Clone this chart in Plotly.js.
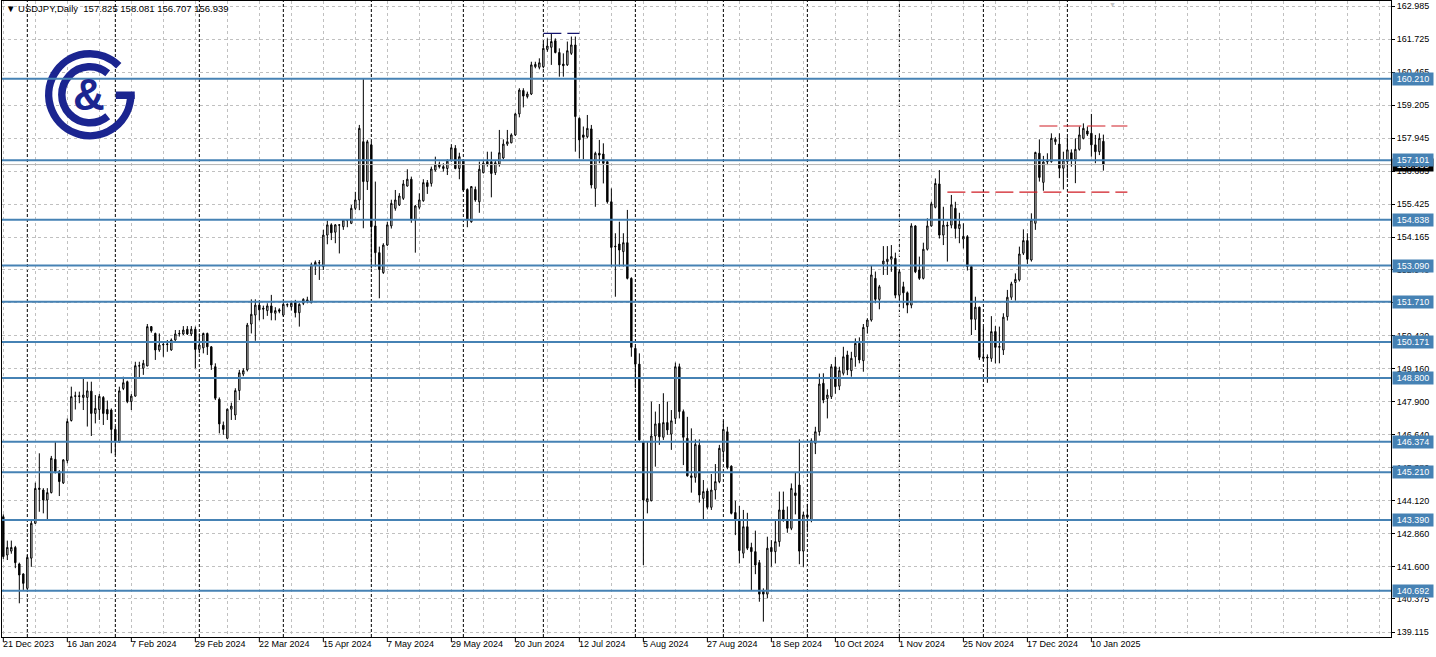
<!DOCTYPE html>
<html>
<head>
<meta charset="utf-8">
<script src="https://cdn.plot.ly/plotly-3.0.1.min.js"></script>
<style>
html,body{margin:0;padding:0;background:#ffffff;}
#chart{width:1436px;height:657px;}
</style>
</head>
<body>
<div id="chart"></div>
<script>
// ---------------- DATA ----------------
const symbol = 'USDJPY,Daily';
const firstDate = '2023-12-21';
const lastDate = '2025-01-15';
const holidays = ['2023-12-25', '2024-01-01', '2024-12-25', '2025-01-01'];

const open = [
143.51,142.05,142.20,142.34,141.71,141.33,140.78,141.93,143.26,144.55,
144.53,144.15,144.43,145.70,145.23,144.80,145.65,147.18,148.10,148.12,
148.06,148.06,148.30,147.45,147.60,148.06,147.60,147.58,146.84,146.37,
148.40,148.66,147.90,148.11,149.27,149.17,149.26,150.76,150.50,149.87,
150.06,150.10,149.87,150.25,150.48,150.48,150.66,150.48,150.66,149.89,
149.95,150.50,149.99,149.23,147.99,147.00,146.50,147.61,147.39,148.32,
148.95,149.11,150.86,151.20,151.58,151.46,151.37,151.55,151.27,151.40,
151.20,151.58,151.52,151.69,151.29,151.65,151.72,151.67,153.11,153.20,
153.05,154.25,154.64,154.36,154.64,154.57,154.80,154.70,155.27,155.59,
157.81,156.29,157.69,154.60,153.58,152.82,153.87,154.60,155.27,155.40,
155.65,156.12,156.38,154.83,155.31,155.56,156.25,156.22,156.73,156.96,
156.79,156.79,157.09,157.56,156.79,157.11,155.99,154.76,155.99,155.52,
156.63,157.05,157.05,156.63,156.96,157.19,157.72,157.77,158.07,158.87,
159.76,159.53,159.63,160.67,160.65,160.67,161.33,161.41,161.66,161.21,
160.77,160.74,161.18,161.50,158.70,158.07,158.00,158.30,156.03,157.37,
157.34,157.05,155.52,153.83,153.91,153.62,153.96,152.60,149.93,149.33,
146.37,144.08,144.12,146.59,147.07,146.54,147.10,146.66,147.26,149.23,
147.52,146.50,145.07,145.01,146.24,144.21,144.49,143.87,144.53,144.85,
146.00,146.75,145.44,143.67,143.41,142.12,143.13,142.34,142.18,141.76,
140.69,140.56,142.34,142.18,142.56,143.77,143.41,143.07,144.42,144.72,
142.20,143.58,143.39,146.31,146.75,148.60,148.02,148.09,149.23,148.49,
148.98,149.68,149.08,149.61,150.12,149.46,150.76,151.01,152.60,151.80,
153.15,153.24,153.33,153.36,151.96,152.28,152.05,151.58,154.60,152.92,
152.60,153.71,154.60,155.31,156.20,154.25,154.63,154.63,155.27,154.50,
154.10,154.19,153.05,151.04,151.50,149.55,149.60,149.55,150.57,149.97,
149.87,151.14,151.88,152.44,152.54,153.56,154.04,153.30,154.70,157.37,
156.26,157.04,157.05,157.81,157.72,156.80,157.05,157.39,157.14,157.52,
157.94,158.22,158.13,157.69,157.43,157.825
];
const high = [
143.60,142.60,142.60,142.40,141.76,141.35,142.05,143.41,144.81,145.93,
144.60,144.60,145.83,146.37,145.29,145.70,147.26,148.47,148.28,148.28,
148.79,148.66,148.66,148.15,148.19,148.11,147.94,147.64,146.95,148.47,
148.85,148.70,148.19,149.42,149.42,149.49,150.86,150.78,150.53,150.50,
150.19,150.25,150.31,150.63,150.63,150.78,150.78,150.78,150.76,150.50,
150.53,150.53,150.02,149.36,148.06,147.14,147.64,147.86,148.41,149.11,
149.17,150.90,151.80,151.80,151.77,151.56,151.65,151.97,151.50,151.46,
151.75,151.65,151.75,151.78,151.65,151.84,151.90,153.20,153.28,153.30,
154.45,154.80,154.70,154.67,154.67,154.85,154.83,155.40,155.90,158.45,
160.23,157.88,157.81,156.29,153.81,153.94,154.76,155.60,155.97,155.85,
156.35,156.76,156.48,155.40,155.84,156.38,156.35,156.86,157.24,157.05,
156.99,157.14,157.72,157.68,157.39,157.14,156.03,156.12,156.10,157.05,
157.11,157.43,157.43,157.11,158.26,157.90,158.26,158.13,158.92,159.85,
159.85,159.72,160.86,160.86,160.99,161.63,161.75,161.94,161.75,161.37,
161.18,161.63,161.82,161.82,158.74,158.39,158.83,158.45,157.43,157.88,
157.75,157.11,156.03,154.32,154.76,154.32,155.21,152.64,150.00,149.74,
146.40,146.37,147.90,147.52,147.81,148.22,147.90,147.58,149.39,149.35,
147.60,147.32,146.88,146.46,146.46,144.91,144.59,145.14,145.52,146.25,
147.17,146.94,145.47,144.12,143.92,143.77,143.66,142.52,142.98,141.86,
140.78,142.75,142.62,143.39,144.47,144.47,143.90,144.78,145.19,146.46,
143.70,144.00,146.50,146.94,148.97,148.98,148.37,149.33,149.60,149.23,
149.99,149.84,149.80,150.31,150.35,150.86,151.08,153.10,152.86,152.35,
153.83,153.83,153.87,153.58,152.92,152.47,152.10,154.70,154.63,153.43,
153.96,154.89,155.52,156.41,156.73,155.33,154.76,155.78,155.52,155.10,
154.70,154.25,153.10,151.90,151.52,150.76,149.70,151.16,150.78,150.76,
151.27,152.16,152.47,152.79,153.81,154.47,154.32,155.08,157.43,157.90,
157.27,157.37,158.13,157.98,158.13,157.43,157.98,157.52,157.94,158.39,
158.51,158.39,158.87,158.07,158.13,158.081
];
const low = [
141.90,141.86,142.10,141.55,140.21,140.72,140.75,141.60,143.24,143.70,
143.64,143.39,144.40,145.16,144.30,144.76,145.55,147.14,147.60,147.84,
147.58,146.95,146.59,147.07,147.20,147.01,147.20,145.93,145.86,146.33,
148.34,147.84,147.58,148.09,148.80,148.92,149.25,150.53,149.49,149.80,
149.61,149.80,149.84,150.22,150.38,150.44,150.44,150.40,149.17,149.74,
149.74,149.68,149.11,147.96,146.69,146.63,146.48,147.20,147.20,147.96,
148.87,149.05,150.50,150.22,151.00,151.04,151.17,151.00,151.00,151.27,
151.14,151.50,151.37,151.11,150.76,151.58,151.65,151.65,152.73,152.54,
152.92,153.90,154.06,153.94,153.55,154.45,154.55,154.67,155.20,155.20,
154.51,155.97,152.98,153.05,151.84,152.77,153.83,154.50,155.18,155.36,
155.59,156.10,154.72,153.58,155.23,155.52,155.82,156.10,156.67,156.79,
156.67,156.54,157.05,156.76,156.38,155.91,154.55,154.72,155.52,155.10,
156.60,156.86,155.69,156.54,156.86,157.14,157.65,157.75,158.03,158.74,
159.12,159.46,159.59,160.61,160.57,160.61,161.24,160.74,161.18,160.29,
160.29,160.70,161.12,157.43,157.18,157.14,157.94,156.03,155.33,156.99,
156.22,155.45,153.05,151.90,153.05,153.05,152.56,149.61,148.41,146.37,
141.67,143.64,144.10,145.42,146.25,146.44,146.63,146.06,147.05,147.26,
145.48,145.04,144.43,144.81,144.05,143.41,143.79,143.77,144.17,144.79,
145.65,145.32,143.60,142.81,141.73,141.93,142.24,140.69,141.32,140.27,
139.51,140.40,141.61,141.73,142.37,143.32,142.90,143.00,143.60,141.70,
141.60,143.00,143.30,145.90,146.60,147.84,147.26,148.00,148.20,148.34,
148.90,148.91,148.85,149.23,149.36,149.04,150.50,150.95,151.65,151.42,
152.73,152.73,152.85,151.84,151.80,151.46,151.27,151.46,152.80,152.54,
152.56,153.66,154.57,155.27,154.12,153.87,153.24,154.51,154.12,153.94,
153.74,152.90,150.44,150.63,149.49,149.45,148.62,149.42,149.36,149.36,
149.68,150.99,151.78,151.75,152.48,153.49,153.15,153.24,154.45,156.29,
155.94,156.92,157.01,157.69,156.42,155.99,156.42,156.86,156.23,157.47,
157.90,158.03,157.24,156.99,157.30,156.707
];
const close = [
141.99,142.34,142.34,141.76,141.29,140.97,141.96,143.26,144.59,144.60,
144.15,144.43,145.74,145.23,144.85,145.68,147.14,148.09,148.12,148.10,
148.15,148.31,147.45,147.64,148.10,147.45,147.43,146.84,146.37,148.31,
148.62,147.90,148.11,149.27,149.26,149.36,150.76,150.60,149.87,150.06,
150.08,150.08,150.25,150.48,150.50,150.63,150.48,150.66,149.89,150.06,
150.50,149.99,149.30,148.03,147.05,146.84,147.61,147.73,148.32,149.00,
149.08,150.82,151.23,151.58,151.40,151.43,151.55,151.29,151.37,151.35,
151.61,151.60,151.65,151.29,151.61,151.80,151.78,153.12,153.21,153.19,
154.25,154.64,154.34,154.64,154.63,154.83,154.81,155.27,155.59,158.32,
156.29,157.81,154.57,153.58,152.94,153.87,154.64,155.46,155.59,155.74,
156.20,156.38,154.83,155.36,155.59,156.25,156.10,156.77,156.92,156.86,
156.86,157.07,157.58,156.79,157.24,155.97,154.83,156.10,155.59,156.76,
156.99,156.96,156.60,157.01,157.39,157.72,157.81,158.07,158.87,159.78,
159.55,159.63,160.74,160.76,160.82,161.37,161.46,161.63,161.21,160.74,
160.71,161.28,161.50,158.77,157.88,157.98,158.32,156.16,157.37,157.30,
156.99,155.52,153.78,153.81,153.68,153.96,152.60,149.97,149.33,146.44,
144.15,144.20,146.59,147.05,146.56,147.10,146.82,147.17,149.23,147.52,
146.54,145.07,145.01,146.27,144.34,144.47,143.87,144.53,144.85,146.12,
146.84,145.39,143.64,143.41,142.22,143.13,142.31,142.18,141.67,140.56,
140.56,142.31,142.18,142.56,143.77,143.39,143.07,144.59,144.32,142.20,
143.58,143.49,146.41,146.75,148.57,147.96,148.15,149.23,148.47,149.08,
149.61,149.11,149.55,150.12,149.49,150.73,151.01,152.73,151.80,152.28,
153.26,153.33,153.43,151.96,152.85,152.05,151.58,154.60,152.85,152.60,
153.71,154.60,155.44,156.22,154.25,154.63,154.60,155.40,154.50,154.66,
154.20,153.05,151.04,151.50,149.59,149.60,149.57,150.57,149.97,150.00,
151.12,151.88,152.39,152.56,153.53,154.04,153.33,154.83,157.40,156.45,
157.04,157.07,157.94,157.90,156.80,157.11,157.50,157.11,157.52,158.07,
158.32,158.10,157.69,157.43,157.94,156.939
];

const dateLabels = ['21 Dec 2023','16 Jan 2024','7 Feb 2024','29 Feb 2024','22 Mar 2024','15 Apr 2024',
  '7 May 2024','29 May 2024','20 Jun 2024','12 Jul 2024','5 Aug 2024','27 Aug 2024','18 Sep 2024',
  '10 Oct 2024','1 Nov 2024','25 Nov 2024','17 Dec 2024','10 Jan 2025'];
const barsPerLabel = 16;

const yTickVals = [162.985,161.725,160.465,159.205,157.945,156.685,155.425,154.165,152.940,151.680,
  150.420,149.160,147.900,146.640,145.380,144.120,142.860,141.600,140.375,139.115];

const levels = [160.210,157.101,154.838,153.090,151.710,150.171,148.800,146.374,145.210,143.390,140.692];

const dashLevels = [161.94, 158.41, 155.89];
const dashFrom = [135, 259, 236];
const dashTo = [144, 281, 281];

// ---------------- BUILD ----------------
const dates = (function () {
  const out = [];
  let t = Date.parse(firstDate + 'T00:00:00Z');
  const end = Date.parse(lastDate + 'T00:00:00Z');
  while (t <= end) {
    const d = new Date(t);
    const wd = d.getUTCDay();
    const s = d.toISOString().slice(0, 10);
    if (wd !== 0 && wd !== 6 && holidays.indexOf(s) < 0) out.push(s);
    t += 86400000;
  }
  return out;
})();
const idx = open.map((_, i) => i);
const last = open.length - 1;
const lastPrice = close[last];

const FONT = 'Liberation Sans, Arial, sans-serif';
const NAVY = '#1b2590';
const STEEL = '#4682b4';
const GRID = '#c0c0c0';

// plot geometry (pixels)
const W = 1436, H = 657;
const M = {l: 2, r: 45, t: 1, b: 20};
const PW = W - M.l - M.r, PH = H - M.t - M.b;
const px2paperX = p => (p - M.l) / PW;
const py2paperY = p => (H - M.b - p) / PH;

const shapes = [];
const annotations = [];

// month separators (black dotted)
for (let i = 1; i < dates.length; i++) {
  if (dates[i].slice(0, 7) !== dates[i - 1].slice(0, 7)) {
    shapes.push({type: 'line', xref: 'x', yref: 'paper', x0: idx[i], x1: idx[i], y0: 0, y1: 1,
      line: {color: '#000000', width: 1, dash: '3px,2px'}, layer: 'below'});
  }
}

// small tick marks for date labels
dateLabels.forEach((lab, k) => {
  const xi = k * barsPerLabel;
  shapes.push({type: 'line', xref: 'x', yref: 'paper', x0: xi, x1: xi, y0: 0, y1: -5 / PH,
    line: {color: '#000000', width: 1}});
  annotations.push({xref: 'x', x: xi, yref: 'paper', y: 0, xanchor: 'left', yanchor: 'top',
    xshift: -1, yshift: -1, text: lab, showarrow: false, borderpad: 0,
    font: {family: FONT, size: 9, color: '#000000'}});
});

// current price line
shapes.push({type: 'line', xref: 'paper', x0: 0, x1: 1, yref: 'y', y0: lastPrice, y1: lastPrice,
  line: {color: '#b4b4b4', width: 1}, layer: 'above'});

// horizontal blue levels
levels.forEach(v => {
  shapes.push({type: 'line', xref: 'paper', x0: 0, x1: 1, yref: 'y', y0: v, y1: v,
    line: {color: STEEL, width: 2}, layer: 'above'});
});

// analyst dashed segments
const dashColors = ['#14146e', '#d01c24', '#d01c24'];
dashLevels.forEach((v, k) => {
  shapes.push({type: 'line', xref: 'x', x0: dashFrom[k], x1: dashTo[k], yref: 'y', y0: v, y1: v,
    line: {color: dashColors[k], width: 1.2, dash: '18px,6px'}, layer: 'above'});
});

// current price label (black)
annotations.push({xref: 'paper', x: 1, xanchor: 'left', xshift: 1, yref: 'y', y: lastPrice, yanchor: 'middle',
  text: lastPrice.toFixed(3), showarrow: false, font: {family: FONT, size: 9, color: '#ffffff'},
  bgcolor: '#000000', borderpad: 1, width: 38, align: 'center'});

// level labels
levels.forEach(v => {
  annotations.push({xref: 'paper', x: 1, xanchor: 'left', xshift: 1, yref: 'y', y: v, yanchor: 'middle',
    text: v.toFixed(3), showarrow: false, font: {family: FONT, size: 9, color: '#ffffff'},
    bgcolor: STEEL, borderpad: 1, width: 38, align: 'center'});
});

// header
const sp = '\u00a0';
annotations.push({xref: 'paper', x: 0, y: 1, yref: 'paper', xanchor: 'left', yanchor: 'top', xshift: 3, yshift: -1,
  showarrow: false, borderpad: 0,
  text: '\u25BC' + sp + symbol + sp + sp + open[last].toFixed(3) + sp + high[last].toFixed(3) + sp +
        low[last].toFixed(3) + sp + close[last].toFixed(3),
  font: {family: FONT, size: 9.5, color: '#000000'}});

// chart-shift marker at the top
annotations.push({xref: 'paper', x: px2paperX(1112), y: 1, yref: 'paper', xanchor: 'center', yanchor: 'top',
  yshift: 1, showarrow: false, borderpad: 0, text: '\u25BC', font: {family: FONT, size: 7, color: '#c4c4c4'}});

// logo "&"
annotations.push({xref: 'paper', yref: 'paper', x: px2paperX(89), y: py2paperY(95), xanchor: 'center', yanchor: 'middle',
  showarrow: false, text: '&', font: {family: FONT, size: 44, color: NAVY, weight: 'bold'}});

// logo rings
const logoSvg = '<svg xmlns="http://www.w3.org/2000/svg" width="100" height="100" viewBox="0 0 100 100">' +
  '<g fill="none" stroke="' + NAVY + '" stroke-width="7.5">' +
  '<path d="M 79 21 A 41 41 0 1 0 91 50"/>' +
  '<path d="M 76 50.5 H 95"/>' +
  '<path d="M 68 28.5 A 28 28 0 1 0 68 71.5"/>' +
  '</g></svg>';
const images = [{
  source: 'data:image/svg+xml;charset=utf-8,' + encodeURIComponent(logoSvg),
  xref: 'paper', yref: 'paper', x: px2paperX(39.75), y: py2paperY(44.75),
  sizex: 100 / PW, sizey: 100 / PH, xanchor: 'left', yanchor: 'top', sizing: 'stretch', layer: 'above'
}];

const trace = {
  type: 'candlestick', x: idx, open: open, high: high, low: low, close: close,
  increasing: {line: {color: '#000000', width: 1}, fillcolor: '#ffffff'},
  decreasing: {line: {color: '#000000', width: 1}, fillcolor: '#000000'},
  whiskerwidth: 0, hoverinfo: 'skip', showlegend: false
};

const layout = {
  width: W, height: H,
  margin: {l: M.l, r: M.r, t: M.t, b: M.b, pad: 0},
  paper_bgcolor: '#ffffff', plot_bgcolor: '#ffffff',
  showlegend: false, boxgap: 0.5, hovermode: false,
  xaxis: {
    range: [-0.33, 346.9], tickmode: 'linear', tick0: 0, dtick: 8,
    showticklabels: false, ticks: '', showgrid: true, gridcolor: GRID, griddash: '3px,3px', gridwidth: 1,
    zeroline: false, showline: true, linecolor: '#000000', linewidth: 1, mirror: true,
    rangeslider: {visible: false}, fixedrange: true
  },
  yaxis: {
    side: 'right', range: [138.925, 163.176], tickmode: 'array', tickvals: yTickVals,
    ticktext: yTickVals.map(v => v.toFixed(3)), ticks: 'outside', ticklen: 3, tickcolor: '#000000',
    tickfont: {family: FONT, size: 9, color: '#000000'},
    showgrid: true, gridcolor: GRID, griddash: '3px,3px', gridwidth: 1,
    zeroline: false, showline: true, linecolor: '#000000', linewidth: 1, mirror: true, fixedrange: true
  },
  shapes: shapes, annotations: annotations, images: images
};

Plotly.newPlot('chart', [trace], layout, {staticPlot: true, displayModeBar: false});
</script>
</body>
</html>
